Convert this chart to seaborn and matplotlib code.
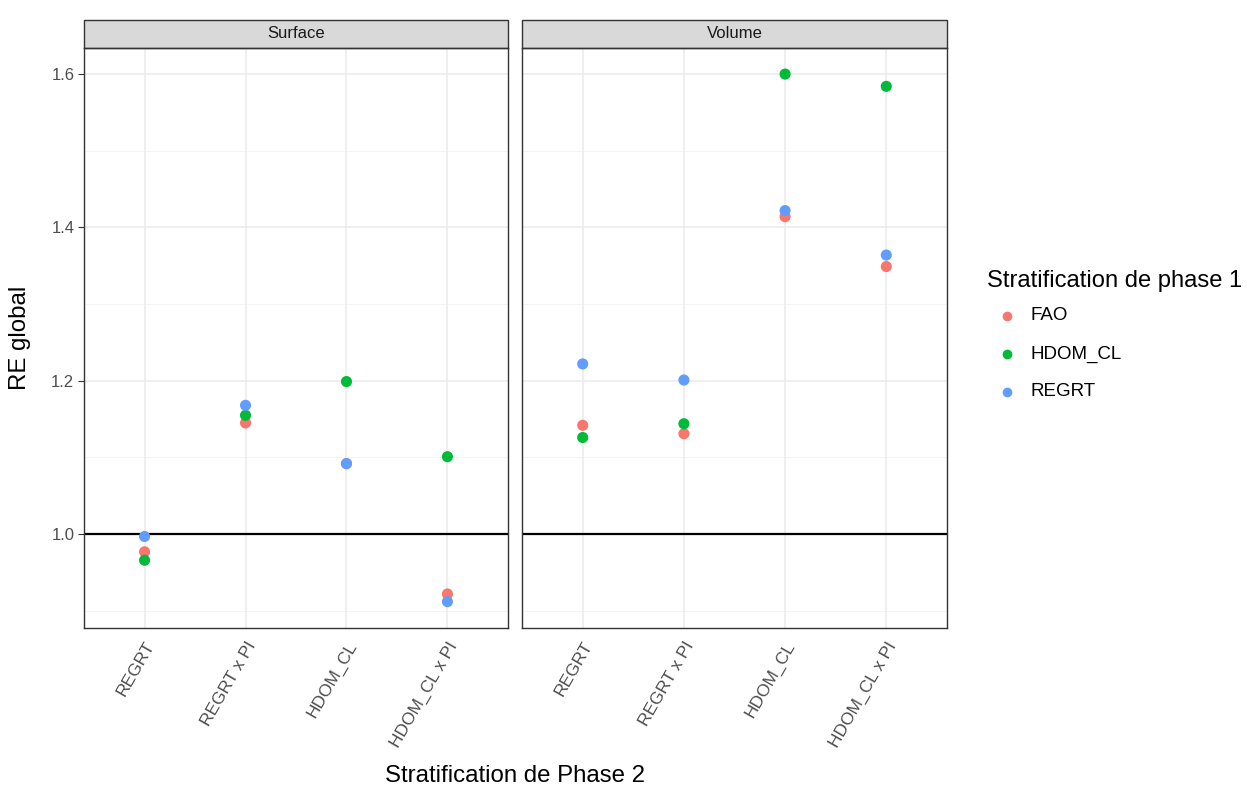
import matplotlib
matplotlib.use("Agg")
import matplotlib.pyplot as plt
from matplotlib.patches import Rectangle
from matplotlib.lines import Line2D
import numpy as np
import pandas as pd
import seaborn as sns

# Phase-2 stratifications (x axis) and phase-1 stratifications (colour)
phase2 = ["REGRT", "REGRT x PI", "HDOM_CL", "HDOM_CL x PI"]
phase1 = ["FAO", "HDOM_CL", "REGRT"]
panels = ["Surface", "Volume"]

# Global relative efficiency, one list per phase-1 stratification, in phase2 order
surface_fao = [0.977, 1.145, 1.092, 0.922]
surface_hdom = [0.966, 1.155, 1.199, 1.101]
surface_regrt = [0.997, 1.168, 1.092, 0.912]

volume_fao = [1.142, 1.131, 1.414, 1.349]
volume_hdom = [1.126, 1.144, 1.600, 1.584]
volume_regrt = [1.222, 1.201, 1.422, 1.364]

palette = {"FAO": "#F8766D", "HDOM_CL": "#00BA38", "REGRT": "#619CFF"}

rows = []
for panel, series in (("Surface", (surface_fao, surface_hdom, surface_regrt)),
                      ("Volume", (volume_fao, volume_hdom, volume_regrt))):
    for strat, vals in zip(phase1, series):
        for cat, v in zip(phase2, vals):
            rows.append({"panel": panel, "phase2": cat, "phase1": strat, "RE": v})
df = pd.DataFrame(rows)

sns.set_theme(style="white")
plt.rcParams["font.family"] = ["Liberation Sans", "DejaVu Sans"]

W, H = 1247, 790
fig = plt.figure(figsize=(W / 100, H / 100), dpi=100)

def frac_box(x0, y0, x1, y1):
    return [x0 / W, 1 - y1 / H, (x1 - x0) / W, (y1 - y0) / H]

def fx(px):
    return px / W

def fy(py):
    return 1 - py / H

boxes = [frac_box(84, 48, 508, 628), frac_box(522, 48, 947, 628)]
ylim = (0.8776, 1.634)
border = "#333333"

for i, (panel, box) in enumerate(zip(panels, boxes)):
    ax = fig.add_axes(box)
    sub = df[df["panel"] == panel]
    ax.set_axisbelow(True)
    # grid: major and minor lines like theme_bw
    for y in [1.0, 1.2, 1.4, 1.6]:
        ax.axhline(y, color="#EBEBEB", lw=1.1, zorder=0)
    for y in [0.9, 1.1, 1.3, 1.5]:
        ax.axhline(y, color="#F2F2F2", lw=0.6, zorder=0)
    for x in range(len(phase2)):
        ax.axvline(x, color="#EBEBEB", lw=1.1, zorder=0)
    ax.axhline(1.0, color="black", lw=1.6, zorder=1)

    sns.stripplot(data=sub, x="phase2", y="RE", hue="phase1", order=phase2,
                  hue_order=phase1, palette=palette, jitter=False, dodge=False,
                  size=8, linewidth=0, ax=ax, legend=False, zorder=3)

    ax.set_xlim(-0.6, 3.6)
    ax.set_ylim(*ylim)
    ax.set_xlabel("")
    ax.set_ylabel("")
    ax.set_xticks(range(len(phase2)))
    ax.set_xticklabels(phase2, rotation=60, ha="right", va="top",
                       rotation_mode="anchor", fontsize=12.5, color="#4D4D4D")
    ax.tick_params(axis="x", length=4, width=0.8, color=border, pad=4)
    ax.set_yticks([1.0, 1.2, 1.4, 1.6])
    if i == 0:
        ax.set_yticklabels(["1.0", "1.2", "1.4", "1.6"], fontsize=12, color="#4D4D4D")
        ax.tick_params(axis="y", length=4, width=0.8, color=border, pad=3, left=True)
    else:
        ax.set_yticklabels([])
        ax.tick_params(axis="y", length=0)
    for sp in ax.spines.values():
        sp.set_color(border)
        sp.set_linewidth(1.0)
        sp.set_visible(True)
    ax.set_facecolor("white")

    # facet strip
    strip_h = 28 / 580
    ax.add_patch(Rectangle((0, 1), 1, strip_h, transform=ax.transAxes,
                           facecolor="#D9D9D9", edgecolor=border, lw=1.0,
                           clip_on=False))
    ax.text(0.5, 1 + strip_h / 2, panel, transform=ax.transAxes, ha="center",
            va="center", fontsize=12, color="#1A1A1A")

fig.text(fx(20), fy(338), "RE global", rotation=90, ha="center", va="center",
         fontsize=17.3, color="black")
fig.text(fx(515), fy(776), "Stratification de Phase 2", ha="center",
         va="center", fontsize=17.3, color="black")

# legend for the phase-1 stratification colours
fig.text(fx(987), fy(281), "Stratification de phase 1", ha="left", va="center",
         fontsize=17.1, color="black")
for k, ypx in zip(phase1, [316, 354, 392]):
    fig.add_artist(Line2D([fx(1007)], [fy(ypx)], marker="o", linestyle="",
                          markersize=7, markerfacecolor=palette[k],
                          markeredgewidth=0, transform=fig.transFigure))
    fig.text(fx(1030), fy(ypx), k, ha="left", va="center", fontsize=13.5,
             color="black")

fig.savefig("out.png", dpi=100, facecolor="white")
